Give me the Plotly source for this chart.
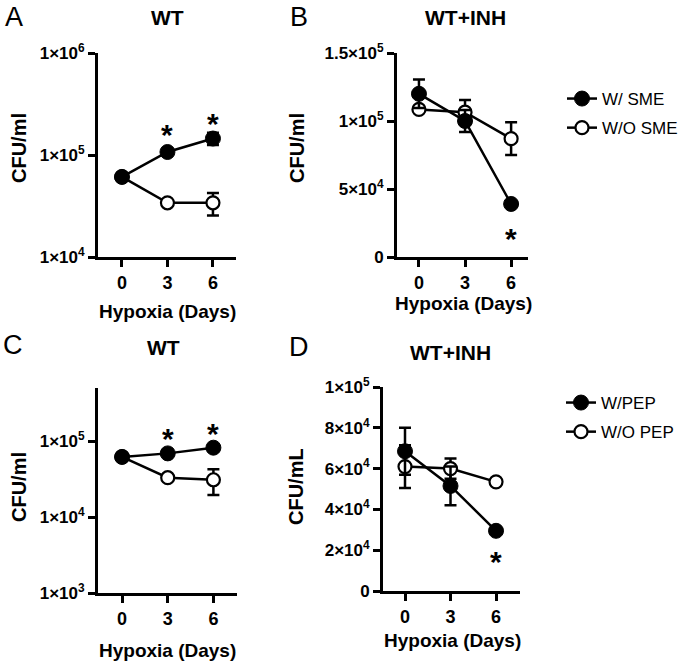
import numpy as np
import plotly.graph_objects as go

W, H = 680, 661
days = [0, 3, 6]

# Panel A (WT, log)
a_with = [6.1e4, 1.07e5, 1.45e5]
a_with_err = [3e3, 4e3, 2.0e4]
a_without = [6.1e4, 3.4e4, 3.4e4]
a_without_err = [2e3, 2e3, 8.5e3]
a_star_x = [3, 6]
a_star_y = [1.8e5, 2.35e5]

# Panel B (WT+INH, linear)
b_with = [1.2e5, 1.0e5, 3.9e4]
b_with_err = [1.05e4, 8e3, 2e3]
b_without = [1.085e5, 1.065e5, 8.7e4]
b_without_err = [2e3, 9e3, 1.2e4]
b_star_x = [6]
b_star_y = [1.8e4]

# Panel C (WT, log)
c_with = [6.2e4, 6.9e4, 8.2e4]
c_with_err = [3e3, 4e3, 5e3]
c_without = [6.2e4, 3.3e4, 3.1e4]
c_without_err = [2e3, 2e3, 1.15e4]
c_star_x = [3, 6]
c_star_y = [1.31e5, 1.53e5]

# Panel D (WT+INH, linear)
d_with = [6.85e4, 5.15e4, 2.95e4]
d_with_err = [1.15e4, 9.5e3, 1e3]
d_without = [6.1e4, 6.0e4, 5.35e4]
d_without_err = [1.05e4, 5e3, 1e3]
d_star_x = [6]
d_star_y = [1.74e4]

a_ticks = [1e4, 1e5, 1e6]
a_ticktext = ["1×10<sup>4</sup>", "1×10<sup>5</sup>", "1×10<sup>6</sup>"]
b_ticks = [0, 5e4, 1e5, 1.5e5]
b_ticktext = ["0", "5×10<sup>4</sup>", "1×10<sup>5</sup>", "1.5×10<sup>5</sup>"]
c_ticks = [1e3, 1e4, 1e5]
c_ticktext = ["1×10<sup>3</sup>", "1×10<sup>4</sup>", "1×10<sup>5</sup>"]
d_ticks = [0, 2e4, 4e4, 6e4, 8e4, 1e5]
d_ticktext = ["0", "2×10<sup>4</sup>", "4×10<sup>4</sup>", "6×10<sup>4</sup>", "8×10<sup>4</sup>", "1×10<sup>5</sup>"]

FONT = "Liberation Sans, Arial, sans-serif"

def px(x):
    return x / W

def py(y):
    return 1 - y / H

fig = go.Figure()

panels = [
    ("A", "x", "y", a_with, a_with_err, a_without, a_without_err, None, None),
    ("B", "x2", "y2", b_with, b_with_err, b_without, b_without_err, "legend", ("W/ SME", "W/O SME")),
    ("C", "x3", "y3", c_with, c_with_err, c_without, c_without_err, None, None),
    ("D", "x4", "y4", d_with, d_with_err, d_without, d_without_err, "legend2", ("W/PEP", "W/O PEP")),
]

for name, xa, ya, wv, we, wov, woe, leg, labels in panels:
    show = leg is not None
    fig.add_trace(go.Scatter(
        x=days, y=wov, xaxis=xa, yaxis=ya, mode="lines+markers",
        line=dict(color="black", width=2.5),
        marker=dict(symbol="circle", size=13, color="white", line=dict(color="black", width=2.2)),
        error_y=dict(type="data", array=woe, color="black", thickness=2.5, width=6),
        name=labels[1] if labels else "", showlegend=show, legend=leg if leg else "legend",
        legendrank=2, legendgroup=name + "o", cliponaxis=False))
    fig.add_trace(go.Scatter(
        x=days, y=wv, xaxis=xa, yaxis=ya, mode="lines+markers",
        line=dict(color="black", width=2.5),
        marker=dict(symbol="circle", size=15, color="black", line=dict(color="black", width=1)),
        error_y=dict(type="data", array=we, color="black", thickness=2.5, width=6),
        name=labels[0] if labels else "", showlegend=show, legend=leg if leg else "legend",
        legendrank=1, legendgroup=name + "w", cliponaxis=False))

def axis_common(size):
    return dict(
        showline=True, linecolor="black", linewidth=3, ticks="outside", ticklen=7,
        tickwidth=3, tickcolor="black", showgrid=False, zeroline=False, automargin=False,
        tickfont=dict(family=FONT, size=size, color="black", weight="bold"),
    )

XS, YS = 18, 17

lay = {
    "A": dict(xd=(98, 236), yd=(53, 257), xr=(-1.58, 7.52)),
    "B": dict(xd=(397, 528), yd=(53, 257), xr=(-1.43, 7.1)),
    "C": dict(xd=(98, 237), yd=(388, 593), xr=(-1.58, 7.55)),
    "D": dict(xd=(383, 520), yd=(387, 591), xr=(-1.45, 7.58)),
}

def xdom(k):
    a, b = lay[k]["xd"]
    return [px(a), px(b)]

def ydom(k):
    a, b = lay[k]["yd"]
    return [py(b), py(a)]

fig.update_layout(
    xaxis=dict(domain=xdom("A"), range=list(lay["A"]["xr"]), anchor="y", tickvals=days, **axis_common(XS)),
    yaxis=dict(domain=ydom("A"), type="log", range=[4, 6], anchor="x", tickvals=a_ticks, ticktext=a_ticktext, **axis_common(YS)),
    xaxis2=dict(domain=xdom("B"), range=list(lay["B"]["xr"]), anchor="y2", tickvals=days, **axis_common(XS)),
    yaxis2=dict(domain=ydom("B"), range=[0, 1.5e5], anchor="x2", tickvals=b_ticks, ticktext=b_ticktext, **axis_common(YS)),
    xaxis3=dict(domain=xdom("C"), range=list(lay["C"]["xr"]), anchor="y3", tickvals=days, **axis_common(XS)),
    yaxis3=dict(domain=ydom("C"), type="log", range=[3, 5.7], anchor="x3", tickvals=c_ticks, ticktext=c_ticktext, **axis_common(YS)),
    xaxis4=dict(domain=xdom("D"), range=list(lay["D"]["xr"]), anchor="y4", tickvals=days, **axis_common(XS)),
    yaxis4=dict(domain=ydom("D"), range=[0, 1e5], anchor="x4", tickvals=d_ticks, ticktext=d_ticktext, **axis_common(YS)),
)

ann = []

def text_ann(x, y, t, size, bold=True, angle=0, xanchor="center"):
    ann.append(dict(x=px(x), y=py(y), xref="paper", yref="paper", text=t, showarrow=False,
                    textangle=angle, xanchor=xanchor, yanchor="middle",
                    font=dict(family=FONT, size=size, color="black", weight="bold" if bold else "normal")))

text_ann(14, 17, "A", 27, bold=False)
text_ann(299, 17, "B", 27, bold=False)
text_ann(13, 345, "C", 27, bold=False)
text_ann(299, 347, "D", 27, bold=False)
text_ann(167, 17, "WT", 21)
text_ann(465, 17, "WT+INH", 21)
text_ann(163, 347, "WT", 21)
text_ann(450, 352, "WT+INH", 21)
text_ann(167, 312, "Hypoxia (Days)", 19)
text_ann(463, 303, "Hypoxia (Days)", 19)
text_ann(167, 650, "Hypoxia (Days)", 19)
text_ann(452, 640, "Hypoxia (Days)", 19)
text_ann(19, 148, "CFU/ml", 20, angle=-90)
text_ann(297, 148, "CFU/ml", 20, angle=-90)
text_ann(19, 487, "CFU/ml", 20, angle=-90)
text_ann(296, 487, "CFU/mL", 20, angle=-90)

for xa, ya, sx, sy, islog in [("x", "y", a_star_x, a_star_y, True), ("x2", "y2", b_star_x, b_star_y, False),
                              ("x3", "y3", c_star_x, c_star_y, True), ("x4", "y4", d_star_x, d_star_y, False)]:
    for xv, yv in zip(sx, sy):
        ann.append(dict(x=xv, y=np.log10(yv) if islog else yv, xref=xa, yref=ya, text="*",
                        showarrow=False, xanchor="center", yanchor="middle", yshift=-6,
                        font=dict(family=FONT, size=30, color="black", weight="bold")))

fig.update_layout(
    annotations=ann,
    width=W, height=H, margin=dict(l=0, r=0, t=0, b=0, autoexpand=False),
    paper_bgcolor="white", plot_bgcolor="white",
    legend=dict(x=px(562), y=py(81), xanchor="left", yanchor="top", traceorder="grouped",
                tracegroupgap=4, font=dict(family=FONT, size=17, color="black"), bgcolor="rgba(0,0,0,0)"),
    legend2=dict(x=px(561), y=py(385), xanchor="left", yanchor="top", traceorder="grouped",
                 tracegroupgap=4, font=dict(family=FONT, size=17, color="black"), bgcolor="rgba(0,0,0,0)"),
    showlegend=True,
)

fig.write_html("out.html", config={"displayModeBar": False},
               post_script="document.body.style.margin='0';document.body.style.overflow='hidden';")
